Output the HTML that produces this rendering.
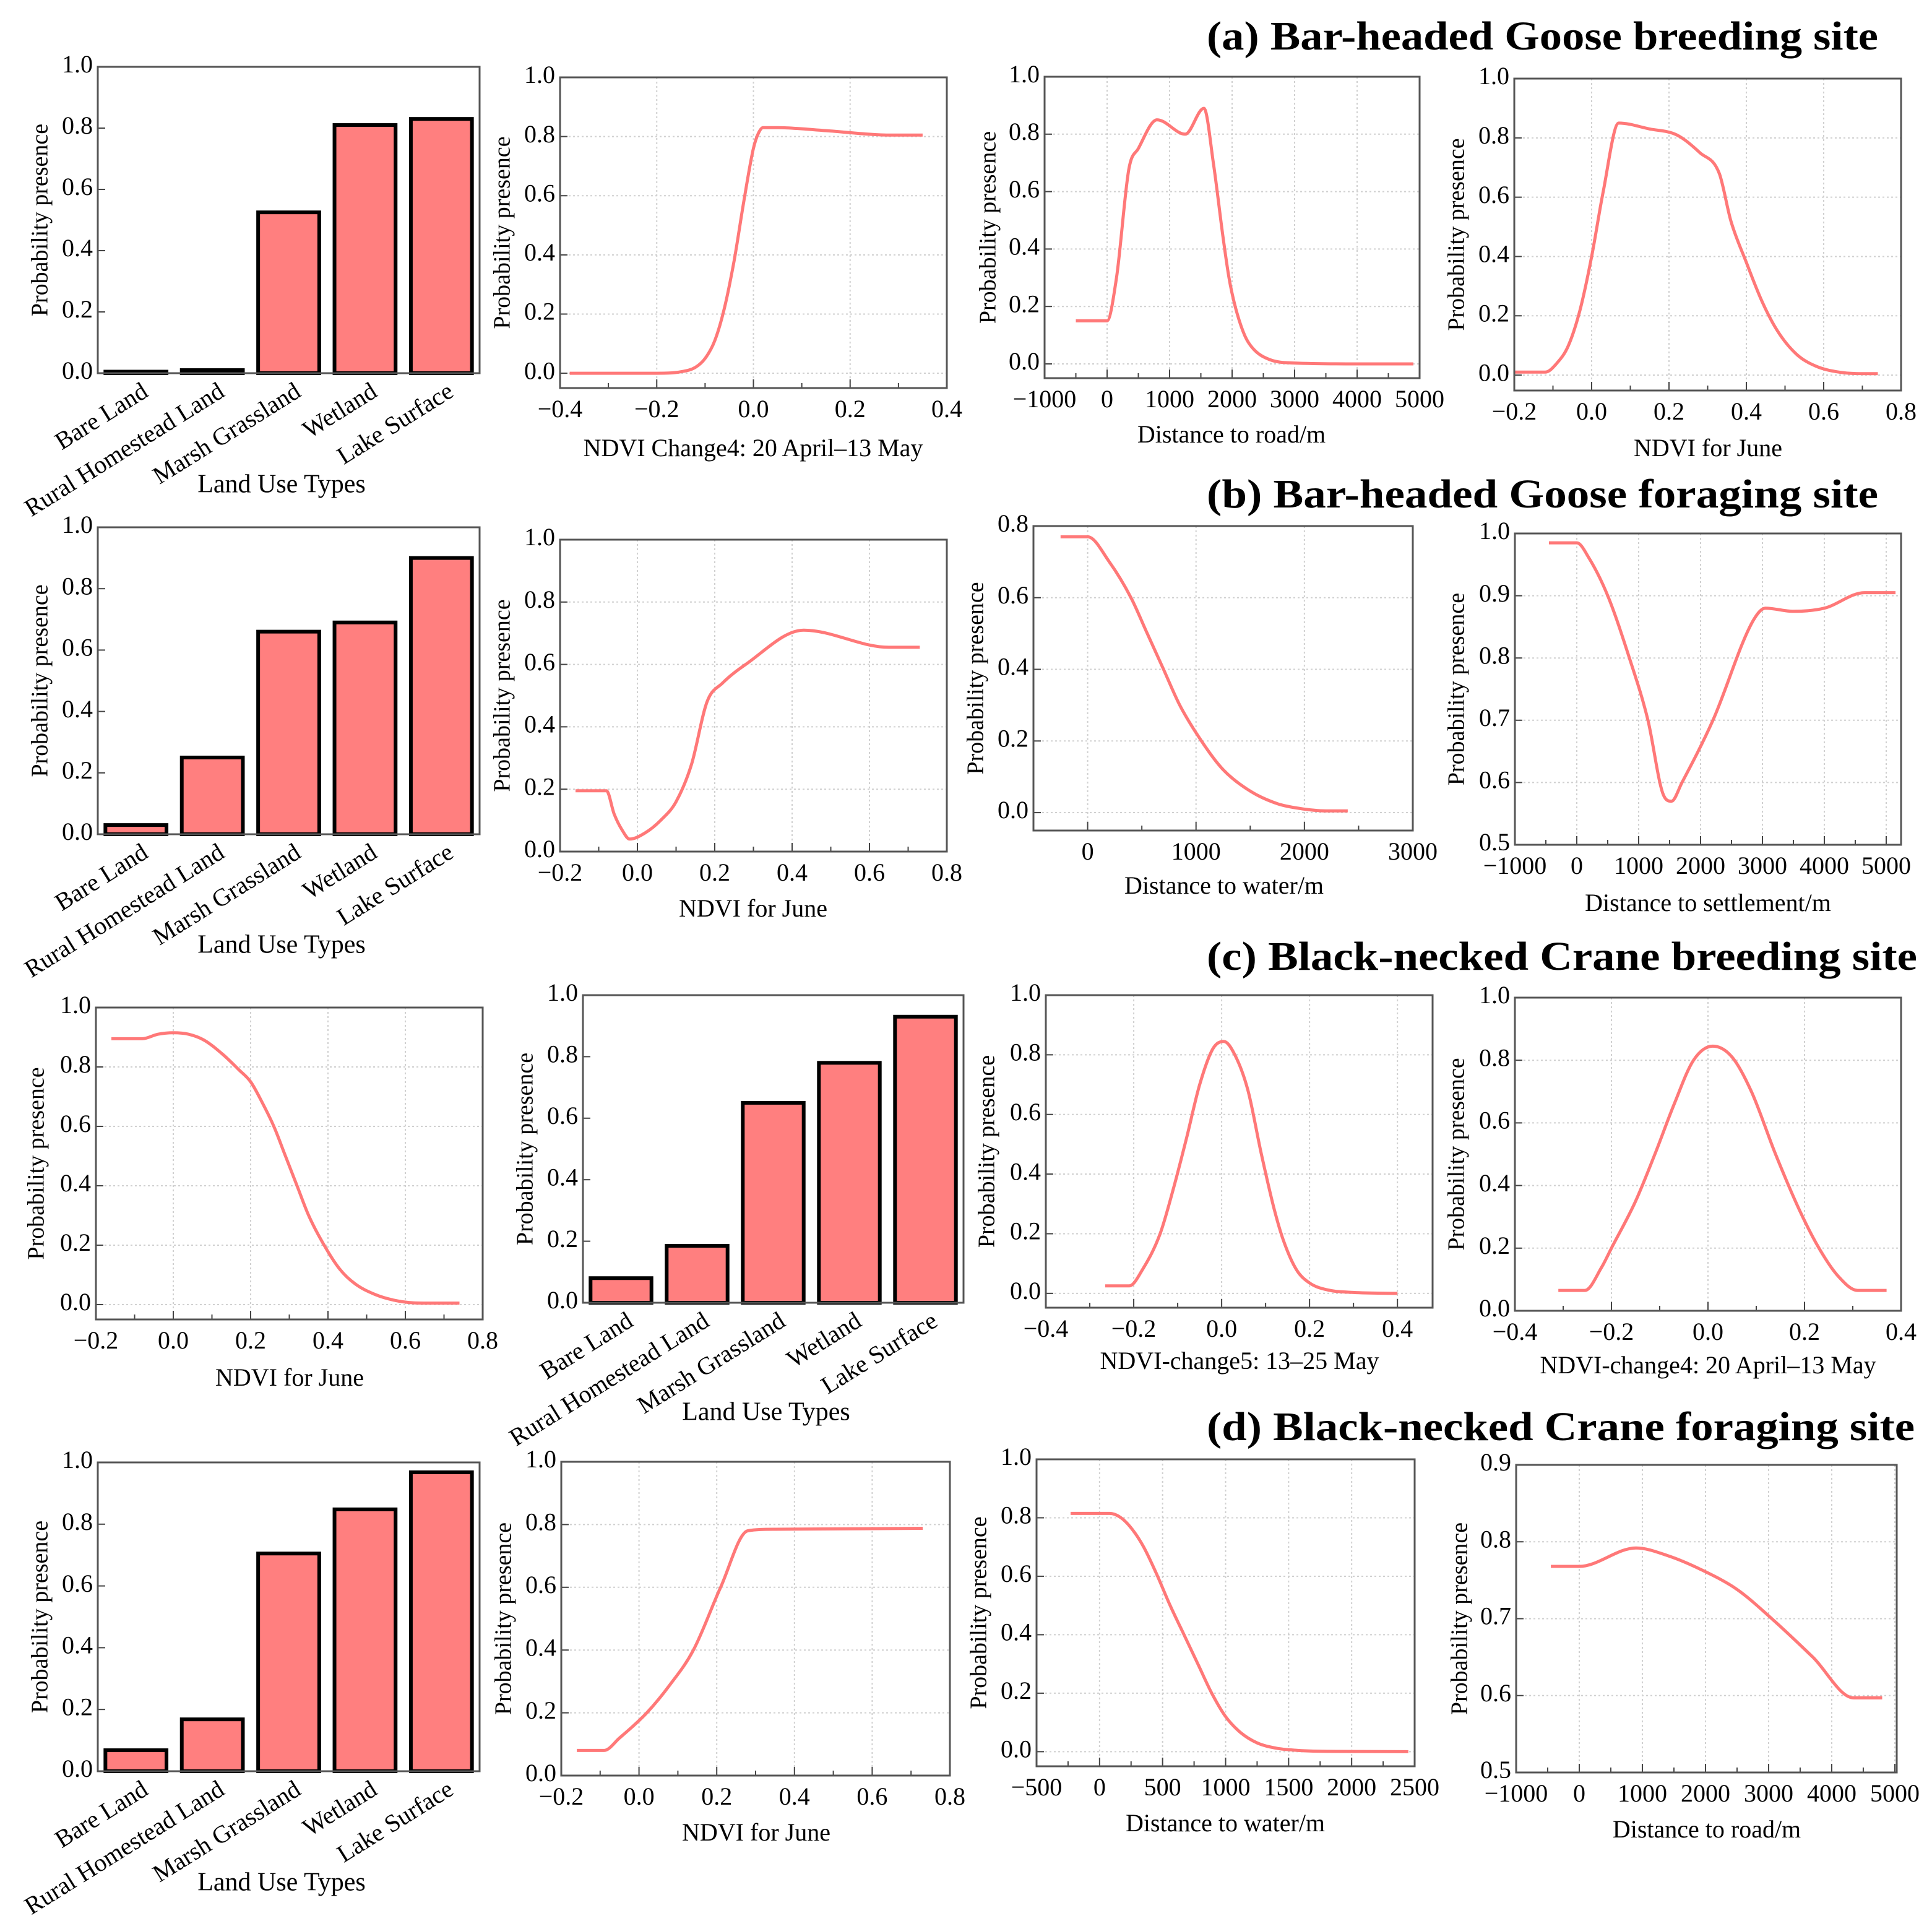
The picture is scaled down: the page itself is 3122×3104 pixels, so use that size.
<!DOCTYPE html>
<html><head><meta charset="utf-8">
<style>
html,body{margin:0;padding:0;background:#fff;}
svg{display:block;font-family:"Liberation Serif","DejaVu Serif",serif;}
</style></head>
<body>
<svg id="fig" width="3122" height="3104" viewBox="0 0 3122 3104" xmlns="http://www.w3.org/2000/svg">
<rect width="3122" height="3104" fill="#fff"/>
<text x="1950" y="80" font-size="66" font-weight="bold" textLength="1085" lengthAdjust="spacingAndGlyphs">(a) Bar-headed Goose breeding site</text>
<text x="1950" y="820" font-size="66" font-weight="bold" textLength="1085" lengthAdjust="spacingAndGlyphs">(b) Bar-headed Goose foraging site</text>
<text x="1950" y="1567" font-size="66" font-weight="bold" textLength="1148" lengthAdjust="spacingAndGlyphs">(c) Black-necked  Crane breeding site</text>
<text x="1950" y="2327" font-size="66" font-weight="bold" textLength="1144" lengthAdjust="spacingAndGlyphs">(d) Black-necked  Crane foraging site</text>
</svg>
<script>
// ---- data ----
const landCats = ["Bare Land","Rural Homestead Land","Marsh Grassland","Wetland","Lake Surface"];
const aBarVals = [0.005,0.01,0.525,0.81,0.83];
const bBarVals = [0.03,0.25,0.66,0.69,0.90];
const cBarVals = [0.08,0.185,0.65,0.78,0.93];
const dBarVals = [0.068,0.168,0.705,0.848,0.968];

const a2X = [-0.38,-0.2,-0.15,-0.12,-0.1,-0.08,-0.06,-0.04,-0.02,0,0.01,0.02,0.05,0.15,0.28,0.35];
const a2Y = [0,0,0.005,0.02,0.05,0.11,0.22,0.38,0.58,0.76,0.81,0.83,0.83,0.82,0.805,0.805];
const a3X = [-500,0,150,350,500,800,1250,1550,1700,1850,1950,2050,2200,2350,2600,3000,4000,4900];
const a3Y = [0.15,0.15,0.3,0.68,0.75,0.85,0.80,0.89,0.7,0.45,0.3,0.2,0.1,0.05,0.015,0.003,0,0];
const a4X = [-0.2,-0.12,-0.09,-0.06,-0.03,0,0.03,0.07,0.15,0.22,0.28,0.33,0.36,0.4,0.44,0.48,0.53,0.58,0.64,0.7,0.74];
const a4Y = [0.01,0.01,0.04,0.1,0.22,0.4,0.62,0.85,0.83,0.81,0.75,0.68,0.52,0.38,0.25,0.15,0.07,0.03,0.01,0.005,0.005];

const b2X = [-0.16,-0.08,-0.06,-0.04,-0.02,0.02,0.06,0.1,0.14,0.18,0.22,0.28,0.43,0.65,0.73];
const b2Y = [0.195,0.195,0.12,0.07,0.04,0.06,0.1,0.16,0.28,0.48,0.54,0.6,0.71,0.655,0.655];
const b3X = [-250,0,200,400,550,700,850,1050,1250,1500,1750,1950,2200,2400];
const b3Y = [0.77,0.77,0.7,0.6,0.5,0.4,0.3,0.2,0.12,0.06,0.025,0.012,0.005,0.005];
const b4X = [-450,0,200,500,850,1150,1400,1530,1700,2200,2850,3050,3500,4000,4650,5150];
const b4Y = [0.985,0.985,0.96,0.9,0.8,0.7,0.58,0.57,0.6,0.7,0.86,0.88,0.875,0.88,0.905,0.905];

const c1X = [-0.16,-0.08,-0.04,0,0.04,0.08,0.13,0.17,0.2,0.23,0.26,0.29,0.32,0.35,0.39,0.43,0.47,0.52,0.57,0.62,0.66,0.74];
const c1Y = [0.895,0.895,0.91,0.915,0.91,0.89,0.84,0.79,0.75,0.68,0.6,0.5,0.4,0.3,0.2,0.12,0.07,0.035,0.015,0.006,0.005,0.005];
const c3X = [-0.265,-0.21,-0.18,-0.14,-0.11,-0.08,-0.05,-0.02,0.005,0.03,0.06,0.09,0.12,0.14,0.17,0.2,0.24,0.3,0.4];
const c3Y = [0.025,0.025,0.08,0.2,0.35,0.52,0.7,0.82,0.845,0.8,0.68,0.47,0.28,0.18,0.08,0.035,0.012,0.003,0];
const c4X = [-0.31,-0.255,-0.22,-0.2,-0.15,-0.11,-0.07,-0.03,0.01,0.05,0.09,0.14,0.19,0.23,0.27,0.31,0.37];
const c4Y = [0.065,0.065,0.14,0.2,0.35,0.5,0.66,0.8,0.845,0.81,0.7,0.5,0.32,0.2,0.11,0.065,0.065];

const d2X = [-0.16,-0.09,-0.05,0.02,0.08,0.14,0.21,0.28,0.35,0.73];
const d2Y = [0.08,0.08,0.12,0.2,0.29,0.4,0.6,0.78,0.785,0.788];
const d3X = [-230,80,170,260,350,450,560,670,780,890,1000,1120,1250,1400,1550,1800,2450];
const d3Y = [0.815,0.815,0.8,0.76,0.7,0.61,0.5,0.4,0.3,0.2,0.12,0.065,0.03,0.012,0.005,0.001,0];
const d4X = [-450,0,900,1400,1900,2500,3050,3700,4350,4800];
const d4Y = [0.768,0.768,0.792,0.782,0.765,0.738,0.7,0.65,0.597,0.597];

// ---- drawing ----
const NS = "http://www.w3.org/2000/svg";
const svg = document.getElementById("fig");
function mk(tag, attrs, parent, txt){
  const e = document.createElementNS(NS, tag);
  for (const k in attrs) e.setAttribute(k, attrs[k]);
  if (txt !== undefined) e.textContent = txt;
  (parent || svg).appendChild(e);
  return e;
}
function fmt(v, dec){ const s = v.toFixed(dec); return s.replace("-", "\u2212"); }
function range(a, b, s){ const r=[]; for(let v=a; v<=b+s*1e-6; v+=s) r.push(+v.toFixed(6)); return r; }

// monotone cubic path through screen points
function monoPath(P){
  const n = P.length;
  if (n < 3) return P.map((p,i)=>(i?"L":"M")+p[0]+","+p[1]).join(" ");
  const d=[], m=[];
  for(let i=0;i<n-1;i++) d.push((P[i+1][1]-P[i][1])/(P[i+1][0]-P[i][0]));
  m[0]=d[0]; m[n-1]=d[n-2];
  for(let i=1;i<n-1;i++){ m[i] = (d[i-1]*d[i] <= 0) ? 0 : (d[i-1]+d[i])/2; }
  for(let i=0;i<n-1;i++){
    if (d[i]===0){ m[i]=0; m[i+1]=0; continue; }
    const a=m[i]/d[i], b=m[i+1]/d[i], s=a*a+b*b;
    if (s>9){ const t=3/Math.sqrt(s); m[i]=t*a*d[i]; m[i+1]=t*b*d[i]; }
  }
  let s = "M"+P[0][0].toFixed(1)+","+P[0][1].toFixed(1);
  for(let i=0;i<n-1;i++){
    const h = (P[i+1][0]-P[i][0])/3;
    s += " C"+(P[i][0]+h).toFixed(1)+","+(P[i][1]+m[i]*h).toFixed(1)+" "+(P[i+1][0]-h).toFixed(1)+","+(P[i+1][1]-m[i+1]*h).toFixed(1)+" "+P[i+1][0].toFixed(1)+","+P[i+1][1].toFixed(1);
  }
  return s;
}

function frame(p, name){
  const g = mk("g", {});
  
  
  return g;
}
function yAxis(g, p, sy, grid){
  p.yticks.forEach(v=>{
    const y = sy(v);
    if (grid){
      const l = mk("line",{x1:p.L,x2:p.R,y1:y,y2:y,stroke:"#d0d0d0","stroke-width":2,"stroke-dasharray":"3,4"},g);
      
      
    }
    const tk = mk("line",{x1:p.L,x2:p.L+12,y1:y,y2:y,stroke:"#444","stroke-width":2},g);
    
    
    const t = mk("text",{x:p.L-8,y:y,"font-size":40,"text-anchor":"end","dominant-baseline":"middle"},g,fmt(v,1));
    
    
  });
  const yt = mk("text",{x:p.yt,y:(p.T+p.B)/2,"font-size":38,"text-anchor":"middle","dominant-baseline":"middle",transform:`rotate(-90 ${p.yt} ${(p.T+p.B)/2})`},g,"Probability presence");
  
  
}
function box(g,p){
  const r = mk("rect",{x:p.L,y:p.T,width:p.R-p.L,height:p.B-p.T,fill:"none",stroke:"#555","stroke-width":3},g);
  
  
}

function barPanel(p, vals, name){
  const g = frame(p, name);
  const sy = v => p.B - (v - 0) / 1 * (p.B - p.T);
  yAxis(g, Object.assign({yticks:range(0,1,0.2)},p), sy, false);
  const n = landCats.length, step = (p.R - p.L) / n;
  vals.forEach((v,i)=>{
    const cx = p.L + step*(i+0.5), w = step*0.8;
    const b = mk("rect",{x:cx-w/2,y:sy(v),width:w,height:p.B-sy(v),fill:"#ff7f7f",stroke:"#000","stroke-width":6},g);
    
    
  });
  box(g,p);
  landCats.forEach((c,i)=>{
    const cx = p.L + step*(i+0.5) + 22, y = p.B + 36;
    const t = mk("text",{x:cx,y:y,"font-size":40,"text-anchor":"end",transform:`rotate(-32 ${cx} ${y})`},g,c);
    
    
  });
  const xt = mk("text",{x:p.xtx,y:p.xty,"font-size":42,"text-anchor":"middle","dominant-baseline":"middle"},g,"Land Use Types");
  
  
}

function linePanel(p, xs, ys, name){
  const g = frame(p, name);
  const sx = v => p.L + (v - p.x0)/(p.x1 - p.x0)*(p.R - p.L);
  const sy = v => p.B - (v - p.y0)/(p.y1 - p.y0)*(p.B - p.T);
  p.xticks.forEach(v=>{
    const x = sx(v);
    const l = mk("line",{x1:x,x2:x,y1:p.T,y2:p.B,stroke:"#d0d0d0","stroke-width":2,"stroke-dasharray":"3,4"},g);
    
    
  });
  yAxis(g,p,sy,true);
  const xm = p.xticks.slice(0,-1).map((v,i)=>(v+p.xticks[i+1])/2);
  p.xticks.concat(xm).forEach((v,i)=>{
    const x = sx(v), major = i < p.xticks.length;
    const tk = mk("line",{x1:x,x2:x,y1:p.B,y2:p.B-(major?14:8),stroke:"#444","stroke-width":2},g);
    
    
  });
  p.xticks.forEach(v=>{
    const t = mk("text",{x:sx(v),y:p.B+38,"font-size":40,"text-anchor":"middle","dominant-baseline":"middle"},g,fmt(v,p.xdec));
    
    
  });
  const pts = xs.map((x,i)=>[sx(x), sy(ys[i])]);
  const path = mk("path",{d:monoPath(pts),fill:"none",stroke:"#ff7878","stroke-width":5,"stroke-linejoin":"round","stroke-linecap":"butt"},g);
  
  
  box(g,p);
  const xt = mk("text",{x:p.xtx,y:p.xty,"font-size":40,"text-anchor":"middle","dominant-baseline":"middle"},g,p.xtitle);
  
  
}

const t02 = range(0,1,0.2);
// row a
barPanel({L:158,R:775,T:108,B:603,yt:68,xtx:455,xty:786}, aBarVals, "panel-a-land-use");
linePanel({L:905,R:1530,T:125,B:627,x0:-0.4,x1:0.4,y0:-0.05,y1:1.0,xticks:range(-0.4,0.4,0.2),xdec:1,yticks:t02,yt:815,xtx:1217,xty:728,xtitle:"NDVI Change4: 20 April\u201313 May"}, a2X, a2Y, "panel-a-ndvi-change4");
linePanel({L:1688,R:2294,T:124,B:611,x0:-1000,x1:5000,y0:-0.0496,y1:1.0,xticks:range(-1000,5000,1000),xdec:0,yticks:t02,yt:1600,xtx:1990,xty:706,xtitle:"Distance to road/m"}, a3X, a3Y, "panel-a-distance-road");
linePanel({L:2447,R:3072,T:127,B:631,x0:-0.2,x1:0.8,y0:-0.052,y1:1.0,xticks:range(-0.2,0.8,0.2),xdec:1,yticks:t02,yt:2357,xtx:2760,xty:728,xtitle:"NDVI for June"}, a4X, a4Y, "panel-a-ndvi-june");
// row b
barPanel({L:158,R:775,T:852,B:1348,yt:68,xtx:455,xty:1530}, bBarVals, "panel-b-land-use");
linePanel({L:905,R:1530,T:872,B:1376,x0:-0.2,x1:0.8,y0:0,y1:1.0,xticks:range(-0.2,0.8,0.2),xdec:1,yticks:t02,yt:815,xtx:1217,xty:1472,xtitle:"NDVI for June"}, b2X, b2Y, "panel-b-ndvi-june");
linePanel({L:1670,R:2283,T:850,B:1342,x0:-500,x1:3000,y0:-0.05,y1:0.8,xticks:range(0,3000,1000),xdec:0,yticks:range(0,0.8,0.2),yt:1580,xtx:1978,xty:1435,xtitle:"Distance to water/m"}, b3X, b3Y, "panel-b-distance-water");
linePanel({L:2448,R:3072,T:862,B:1365,x0:-1000,x1:5240,y0:0.5,y1:1.0,xticks:range(-1000,5000,1000),xdec:0,yticks:range(0.5,1.0,0.1),yt:2357,xtx:2760,xty:1463,xtitle:"Distance to settlement/m"}, b4X, b4Y, "panel-b-distance-settlement");
// row c
linePanel({L:155,R:780,T:1628,B:2132,x0:-0.2,x1:0.8,y0:-0.05,y1:1.0,xticks:range(-0.2,0.8,0.2),xdec:1,yticks:t02,yt:62,xtx:468,xty:2230,xtitle:"NDVI for June"}, c1X, c1Y, "panel-c-ndvi-june");
barPanel({L:942,R:1557,T:1608,B:2105,yt:852,xtx:1238,xty:2285}, cBarVals, "panel-c-land-use");
linePanel({L:1690,R:2315,T:1608,B:2113,x0:-0.4,x1:0.48,y0:-0.048,y1:1.0,xticks:range(-0.4,0.4,0.2),xdec:1,yticks:t02,yt:1598,xtx:2003,xty:2203,xtitle:"NDVI-change5: 13\u201325 May"}, c3X, c3Y, "panel-c-ndvi-change5");
linePanel({L:2448,R:3072,T:1612,B:2118,x0:-0.4,x1:0.4,y0:0,y1:1.0,xticks:range(-0.4,0.4,0.2),xdec:1,yticks:t02,yt:2357,xtx:2760,xty:2210,xtitle:"NDVI-change4: 20 April\u201313 May"}, c4X, c4Y, "panel-c-ndvi-change4");
// row d
barPanel({L:158,R:775,T:2363,B:2862,yt:68,xtx:455,xty:3045}, dBarVals, "panel-d-land-use");
linePanel({L:907,R:1535,T:2362,B:2869,x0:-0.2,x1:0.8,y0:0,y1:1.0,xticks:range(-0.2,0.8,0.2),xdec:1,yticks:t02,yt:817,xtx:1222,xty:2965,xtitle:"NDVI for June"}, d2X, d2Y, "panel-d-ndvi-june");
linePanel({L:1675,R:2286,T:2358,B:2854,x0:-500,x1:2500,y0:-0.05,y1:1.0,xticks:range(-500,2500,500),xdec:0,yticks:t02,yt:1585,xtx:1980,xty:2950,xtitle:"Distance to water/m"}, d3X, d3Y, "panel-d-distance-water");
linePanel({L:2450,R:3065,T:2367,B:2864,x0:-1000,x1:5030,y0:0.5,y1:0.9,xticks:range(-1000,5000,1000),xdec:0,yticks:range(0.5,0.9,0.1),yt:2362,xtx:2758,xty:2960,xtitle:"Distance to road/m"}, d4X, d4Y, "panel-d-distance-road");
</script>
</body></html>
